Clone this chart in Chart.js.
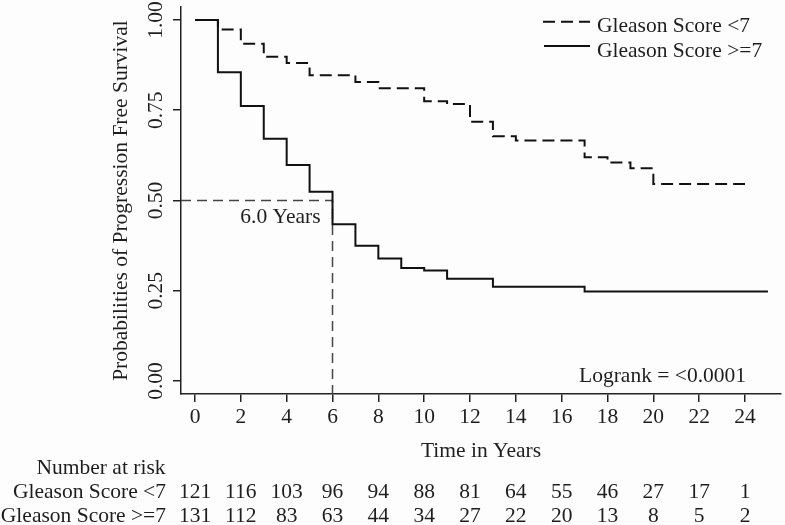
<!DOCTYPE html>
<html>
<head>
<meta charset="utf-8">
<title>Progression Free Survival by Gleason Score</title>
<script src="https://cdn.jsdelivr.net/npm/chart.js@4/dist/chart.umd.min.js"></script>
<style>
    html, body { margin: 0; padding: 0; background: #fdfdfd; }
    #wrap { width: 785px; height: 525px; }
</style>
</head>
<body>
<div id="wrap"><canvas id="km-chart" width="785" height="525"></canvas></div>
<script>
// Данные кривых Каплана-Мейера (время в годах, доля без прогрессии)
const lowTimes = [0, 1, 2, 3, 4, 5, 7, 8, 10, 11, 12, 13, 14, 17, 18, 19, 20, 24];
const lowSurv = [1.0, 0.974, 0.934, 0.898, 0.881, 0.847, 0.828, 0.811, 0.775, 0.767, 0.718, 0.678, 0.666, 0.620, 0.605, 0.589, 0.546, 0.546];
const highTimes = [0, 1, 2, 3, 4, 5, 6, 7, 8, 9, 10, 11, 13, 17, 25];
const highSurv = [1.0, 0.855, 0.762, 0.671, 0.598, 0.524, 0.434, 0.375, 0.339, 0.313, 0.306, 0.283, 0.261, 0.248, 0.248];

// Подписи осей и групп
const seriesNames = ['Gleason Score <7', 'Gleason Score >=7'];
const xTickValues = [0, 2, 4, 6, 8, 10, 12, 14, 16, 18, 20, 22, 24];
const yTickValues = [0, 0.25, 0.5, 0.75, 1];

// Таблица "Number at risk"
const riskTimes = [0, 2, 4, 6, 8, 10, 12, 14, 16, 18, 20, 22, 24];
const riskLow = [121, 116, 103, 96, 94, 88, 81, 64, 55, 46, 27, 17, 1];
const riskHigh = [131, 112, 83, 63, 44, 34, 27, 22, 20, 13, 8, 5, 2];

// Медиана и лог-ранк
const medianTime = 6.0;
const medianProb = 0.5;
const logrankText = 'Logrank = <0.0001';

// Границы осей
const X_MIN = -0.611;
const X_MAX = 25.57;
const Y_MIN = -0.036;
const Y_MAX = 1.036;

const FONT = { family: "'Liberation Serif', 'DejaVu Serif', serif", size: 21.5 };
const FONT_CSS = "21.5px 'Liberation Serif', 'DejaVu Serif', serif";
const TEXT_COLOR = '#1e1e1e';
const AXIS_COLOR = '#222';
const CURVE_COLOR = '#111';
const CURVE_DASH = [12, 6];

let kmChart;

/**
 * Преобразование массивов времени и вероятности в точки
 */
function toPoints(times, values) {
    return times.map((t, i) => ({ x: t, y: values[i] }));
}

/**
 * Плагин: легенда, подписи медианы, лог-ранк и таблица риска
 */
const kmTextPlugin = {
    id: 'kmText',
    afterDraw(chart) {
        const ctx = chart.ctx;
        const xs = chart.scales.x;
        const ys = chart.scales.y;

        ctx.save();
        ctx.font = FONT_CSS;
        ctx.fillStyle = TEXT_COLOR;
        ctx.textBaseline = 'alphabetic';

        // Подпись медианы
        ctx.textAlign = 'right';
        ctx.fillText(medianTime.toFixed(1) + ' Years',
            xs.getPixelForValue(medianTime) - 12, ys.getPixelForValue(medianProb) + 22.5);

        // Лог-ранк
        ctx.fillText(logrankText, xs.getPixelForValue(24) + 1, ys.getPixelForValue(0) + 0.5);

        // Легенда
        const legendRows = [
            { name: seriesNames[0], dash: CURVE_DASH, lineY: 21.7, baseY: 31.7, x0: 543 },
            { name: seriesNames[1], dash: [], lineY: 46, baseY: 56.7, x0: 544 }
        ];
        legendRows.forEach(row => {
            ctx.save();
            ctx.strokeStyle = CURVE_COLOR;
            ctx.lineWidth = 2;
            ctx.setLineDash(row.dash);
            ctx.beginPath();
            ctx.moveTo(row.x0, row.lineY);
            ctx.lineTo(590, row.lineY);
            ctx.stroke();
            ctx.restore();
            ctx.textAlign = 'left';
            ctx.fillText(row.name, 597, row.baseY);
        });

        // Таблица числа пациентов под риском
        ctx.textAlign = 'right';
        ctx.fillText('Number at risk', 165.5, 474);
        ctx.fillText(seriesNames[0], 166, 498.3);
        ctx.fillText(seriesNames[1], 166, 521.5);
        ctx.textAlign = 'center';
        riskTimes.forEach((t, i) => {
            const px = xs.getPixelForValue(t);
            ctx.fillText(String(riskLow[i]), px, 498.3);
            ctx.fillText(String(riskHigh[i]), px, 521.5);
        });

        ctx.restore();
    }
};

/**
 * Общие настройки оси
 */
function axisGrid() {
    return {
        drawOnChartArea: false,
        drawTicks: true,
        tickLength: 8,
        color: AXIS_COLOR,
        lineWidth: 1.5
    };
}

/**
 * Создание графика
 */
function buildChart() {
    const ctx = document.getElementById('km-chart').getContext('2d');

    kmChart = new Chart(ctx, {
        type: 'scatter',
        data: {
            datasets: [{
                label: seriesNames[1],
                data: toPoints(highTimes, highSurv),
                showLine: true,
                stepped: true,
                borderColor: CURVE_COLOR,
                borderWidth: 2,
                pointRadius: 0,
                fill: false
            }, {
                label: seriesNames[0],
                data: toPoints(lowTimes, lowSurv),
                showLine: true,
                stepped: true,
                borderColor: CURVE_COLOR,
                borderWidth: 2,
                borderDash: CURVE_DASH,
                pointRadius: 0,
                fill: false
            }, {
                label: 'median',
                data: [
                    { x: X_MIN, y: medianProb },
                    { x: medianTime, y: medianProb },
                    { x: medianTime, y: Y_MIN }
                ],
                showLine: true,
                borderColor: '#444',
                borderWidth: 1.5,
                borderDash: [10, 6],
                pointRadius: 0,
                fill: false
            }]
        },
        options: {
            responsive: false,
            animation: false,
            layout: {
                padding: { left: 0, right: 4, top: 7, bottom: 61 }
            },
            plugins: {
                legend: { display: false },
                tooltip: { enabled: false }
            },
            scales: {
                x: {
                    type: 'linear',
                    min: X_MIN,
                    max: X_MAX,
                    afterBuildTicks: scale => {
                        scale.ticks = xTickValues.map(v => ({ value: v }));
                    },
                    afterFit: scale => {
                        scale.height = 70;
                        scale.paddingLeft = 0;
                        scale.paddingRight = 0;
                    },
                    ticks: {
                        font: FONT,
                        color: TEXT_COLOR,
                        padding: 2,
                        minRotation: 0,
                        maxRotation: 0,
                        callback: v => String(v)
                    },
                    grid: axisGrid(),
                    border: { display: true, color: AXIS_COLOR, width: 1.5 },
                    title: {
                        display: true,
                        text: 'Time in Years',
                        font: FONT,
                        color: TEXT_COLOR,
                        padding: { top: 0, bottom: 0 }
                    }
                },
                y: {
                    type: 'linear',
                    min: Y_MIN,
                    max: Y_MAX,
                    afterBuildTicks: scale => {
                        scale.ticks = yTickValues.map(v => ({ value: v }));
                    },
                    afterFit: scale => {
                        scale.width = 181;
                        scale.paddingTop = 0;
                        scale.paddingBottom = 0;
                    },
                    ticks: {
                        font: FONT,
                        color: TEXT_COLOR,
                        padding: -2,
                        minRotation: 90,
                        maxRotation: 90,
                        crossAlign: 'center',
                        callback: v => Number(v).toFixed(2)
                    },
                    grid: axisGrid(),
                    border: { display: true, color: AXIS_COLOR, width: 1.5 },
                    title: {
                        display: true,
                        text: 'Probabilities of Progression Free Survival',
                        font: FONT,
                        color: TEXT_COLOR,
                        padding: { top: 108, bottom: 0 }
                    }
                }
            }
        },
        plugins: [kmTextPlugin]
    });
}

buildChart();
</script>
</body>
</html>
